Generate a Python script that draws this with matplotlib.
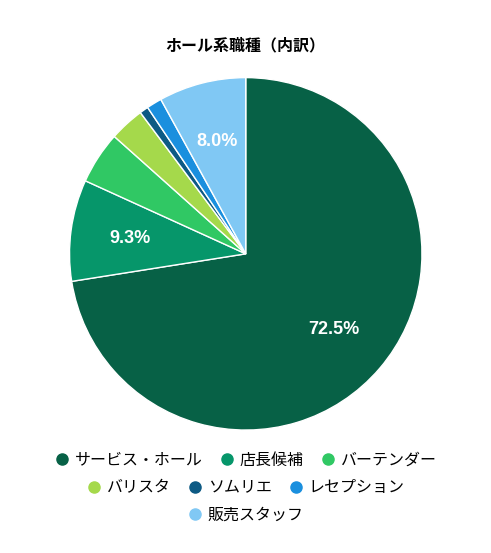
import numpy as np
import matplotlib.pyplot as plt
from matplotlib.lines import Line2D

plt.rcParams['font.family'] = ['Noto Sans CJK JP', 'DejaVu Sans']

labels = ['サービス・ホール', '店長候補', 'バーテンダー', 'バリスタ', 'ソムリエ', 'レセプション', '販売スタッフ']
values = [72.5, 9.3, 4.8, 3.2, 0.8, 1.4, 8.0]
colors = ['#076146', '#06966a', '#30c864', '#a5d94b', '#0d5a84', '#1a8fde', '#80c8f4']

fig = plt.figure(figsize=(4.91, 5.53), dpi=100)
ax = fig.add_axes([0.138, 0.219, 0.725, 0.644])
wedges, texts = ax.pie(values, colors=colors, startangle=90, counterclock=False,
                       wedgeprops=dict(edgecolor='white', linewidth=1))
total = sum(values)
ang = 90.0
for v in values:
    mid = np.deg2rad(ang - v / total * 180)
    ang -= v / total * 360
    if v > 5:
        ax.text(0.66 * np.cos(mid), 0.66 * np.sin(mid), f'{v:.1f}%', ha='center', va='center',
                color='white', fontsize=13, fontweight='bold', family='Liberation Sans')
ax.set_xlim(-1.01, 1.01)
ax.set_ylim(-1.01, 1.01)
ax.set_aspect('equal')

fig.text(0.5, 0.918, 'ホール系職種（内訳）', ha='center', va='center', fontsize=11.5, fontweight='bold')

rows = [[0, 1, 2], [3, 4, 5], [6]]
ys = [0.168, 0.118, 0.068]
for row, y in zip(rows, ys):
    handles = [Line2D([], [], marker='o', linestyle='', markersize=8, color=colors[i]) for i in row]
    fig.legend(handles, [labels[i] for i in row], loc='center', bbox_to_anchor=(0.5, y),
               ncol=len(row), frameon=False, fontsize=11.5, handletextpad=0.3,
               columnspacing=1.0, handlelength=1.0)

fig.savefig('out.png', dpi=100)
